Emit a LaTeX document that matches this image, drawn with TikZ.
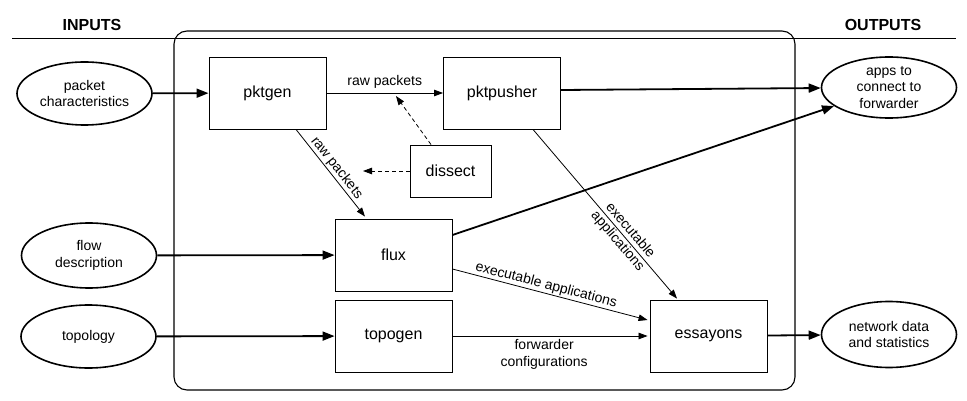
\documentclass[tikz,border=0pt]{standalone}
\usepackage{fontspec}
\setmainfont{Liberation Sans}
\usetikzlibrary{shapes.geometric,arrows.meta,positioning,calc}
\begin{document}
\begin{tikzpicture}[x=1pt,y=-1pt,
  lbl/.style={font=\fontsize{14}{16.5}\selectfont, inner sep=1pt},
  proc/.style={draw, line width=0.9pt, minimum width=117pt, minimum height=72pt, inner sep=0pt, font=\fontsize{16}{19}\selectfont},
  io/.style={draw, ellipse, line width=1.6pt, minimum width=135pt, minimum height=63pt, inner sep=0pt},
  iotext/.style={align=center, font=\fontsize{14}{16.5}\selectfont},
  head/.style={font=\bfseries\fontsize{16}{19}\selectfont},
  thinarrow/.style={line width=0.8pt, -{Triangle[length=9pt,width=6.5pt]}},
  thickarrow/.style={line width=1.8pt, -{Triangle[length=12pt,width=9pt]}},
  dasharrow/.style={line width=0.8pt, dash pattern=on 4pt off 3pt, -{Triangle[length=9pt,width=6.5pt]}}
]
\useasboundingbox (0,0) rectangle (967,401);

% headings and rule
\node[head] (inputs) at (92,25) {INPUTS};
\node[head] (outputs) at (883,25) {OUTPUTS};
\coordinate (ruleL) at (12,38);
\coordinate (ruleR) at (956,38);
\draw[line width=0.9pt] (ruleL) -- (ruleR);

% frame
\node[draw, line width=1.1pt, rounded corners=13pt, minimum width=621pt, minimum height=359pt, inner sep=0pt] (frame) at (484.5,210.5) {};

% process boxes
\node[proc] (pktgen) at (267.5,93) {pktgen};
\node[proc] (pktpusher) at (502,93) {pktpusher};
\node[proc, minimum width=81pt, minimum height=52pt] (dissect) at (450.5,171) {dissect};
\node[proc] (flux) at (393.5,255) {flux};
\node[proc] (topogen) at (393.5,336) {topogen};
\node[proc] (essayons) at (708.5,336) {essayons};

% inputs / outputs
\node[io, label={[iotext]center:packet\\characteristics}] (pc) at (84.5,93.5) {};
\node[io, minimum height=65pt, label={[iotext]center:flow\\description}] (flow) at (89,255.5) {};
\node[io, label={[iotext]center:topology}] (topo) at (88.5,336.5) {};
\node[io, minimum height=61pt, label={[iotext]center:apps to\\connect to\\forwarder}] (apps) at (889,87.5) {};
\node[io, minimum height=66pt, label={[iotext]center:network data\\and statistics}] (net) at (889,334.5) {};

% connectors
\draw[thickarrow] (pc) -- (pktgen);
\draw[thickarrow] (flow) -- (flux);
\draw[thickarrow] (topo) -- (topogen);

\draw[thinarrow] (pktgen.east) -- node[lbl, above=3pt] {raw packets} (pktgen.east -| pktpusher.west);
\draw[thickarrow] ([yshift=3pt]pktpusher.east) -- (apps);
\draw[thickarrow] ([yshift=20pt]flux.east) -- (apps);

\draw[thinarrow] ([xshift=28.5pt]pktgen.south) -- node[lbl, sloped, above] {raw packets} ([xshift=-28.5pt,yshift=2pt]flux.north);

\coordinate (dtop) at (396,96);
\coordinate (dleft) at (363,171);
\draw[dasharrow] ([xshift=-19.5pt]dissect.north) -- (dtop);
\draw[dasharrow] (dissect.west) -- (dleft);

\draw[thinarrow] ([xshift=31pt]pktpusher.south) -- node[lbl, sloped, align=center, pos=0.63] {executable\\applications} ([xshift=-31.5pt,yshift=1pt]essayons.north);
\draw[thinarrow] ([yshift=-14pt]flux.east) -- node[lbl, sloped, above, pos=0.47] {executable applications} ([xshift=-2pt,yshift=16pt]essayons.west);
\draw[thinarrow] (topogen.east) -- node[lbl, below=2pt, align=center, pos=0.47] {forwarder\\configurations} ([xshift=-2pt]essayons.west);

\draw[thickarrow] (essayons) -- (net);
\end{tikzpicture}
\end{document}
